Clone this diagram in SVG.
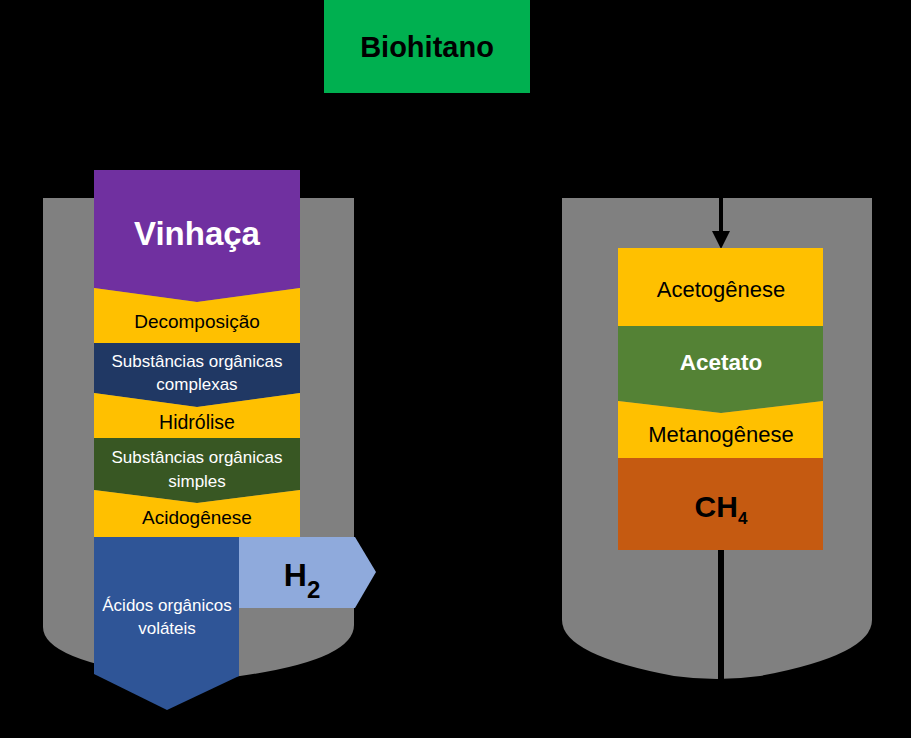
<svg xmlns="http://www.w3.org/2000/svg" width="911" height="738" viewBox="0 0 911 738">
<style>
.t{font-family:"Liberation Sans",Arial,sans-serif;text-anchor:middle}
.w{fill:#ffffff}
.k{fill:#000000}
.b{font-weight:bold}
.tank{fill:#808080}
</style>
<rect x="0" y="0" width="911" height="738" fill="#000000"/>
<g id="tank-left"><path class="tank" d="M43,198 H354 V625 Q354,660 240,676 Q198,682 160,676 Q43,660 43,627 Z"/></g>
<g id="tank-right"><path class="tank" d="M562,198 H872 V620 Q872,655 760,676 Q717,682 674,676 Q562,655 562,620 Z"/></g>
<g id="biohitano"><rect x="324" y="0" width="206" height="93" fill="#00B050"/><text class="t k b" x="427" y="57" font-size="29">Biohitano</text></g>
<g id="vinhaca"><path d="M94,170 H300 V288 L197,302 L94,288 Z" fill="#7030A0"/><text class="t w b" x="197" y="245" font-size="33">Vinhaça</text></g>
<g id="decomposicao"><path d="M94,288 L197,302 L300,288 V343 H94 Z" fill="#FFC000"/><text class="t k" x="197" y="328" font-size="19">Decomposição</text></g>
<g id="complexas"><path d="M94,343 H300 V393 L197,407 L94,393 Z" fill="#203864"/><text class="t w" x="197" y="367" font-size="17">Substâncias orgânicas</text><text class="t w" x="197" y="390" font-size="17">complexas</text></g>
<g id="hidrolise"><path d="M94,393 L197,407 L300,393 V438 H94 Z" fill="#FFC000"/><text class="t k" x="197" y="429" font-size="19.5">Hidrólise</text></g>
<g id="simples"><path d="M94,438 H300 V490 L197,503 L94,490 Z" fill="#385723"/><text class="t w" x="197" y="463" font-size="17">Substâncias orgânicas</text><text class="t w" x="197" y="487" font-size="17">simples</text></g>
<g id="acidogenese"><path d="M94,490 L197,503 L300,490 V537 H94 Z" fill="#FFC000"/><text class="t k" x="197" y="524" font-size="19">Acidogênese</text></g>
<g id="acidos"><path d="M94,537 H239 V676 L167,710 L94,674 Z" fill="#2F5597"/><text class="t w" x="167" y="611" font-size="17">Ácidos orgânicos</text><text class="t w" x="167" y="634" font-size="17">voláteis</text></g>
<g id="h2"><path d="M239,537 H355 L376,572 L355,608 H239 Z" fill="#8FAADC"/><text class="t k b" x="302" y="586" font-size="32">H<tspan font-size="24" dy="12">2</tspan></text></g>
<g id="connectors">
<line x1="721" y1="198" x2="721" y2="232" stroke="#000" stroke-width="4"/>
<path d="M712,231 H730 L721,249 Z" fill="#000"/>
<line x1="721" y1="550" x2="721" y2="681" stroke="#000" stroke-width="6"/>
</g>
<g id="acetogenese"><rect x="618" y="248" width="205" height="78" fill="#FFC000"/><text class="t k" x="721" y="297" font-size="22">Acetogênese</text></g>
<g id="acetato"><path d="M618,326 H823 V401 L721,413 L618,401 Z" fill="#548235"/><text class="t w b" x="721" y="370" font-size="22.5">Acetato</text></g>
<g id="metanogenese"><path d="M618,401 L721,413 L823,401 V458 H618 Z" fill="#FFC000"/><text class="t k" x="721" y="442" font-size="22">Metanogênese</text></g>
<g id="ch4"><rect x="618" y="458" width="205" height="92" fill="#C55A11"/><text class="t k b" x="721" y="517" font-size="30">CH<tspan font-size="17" dy="7">4</tspan></text></g>
</svg>
